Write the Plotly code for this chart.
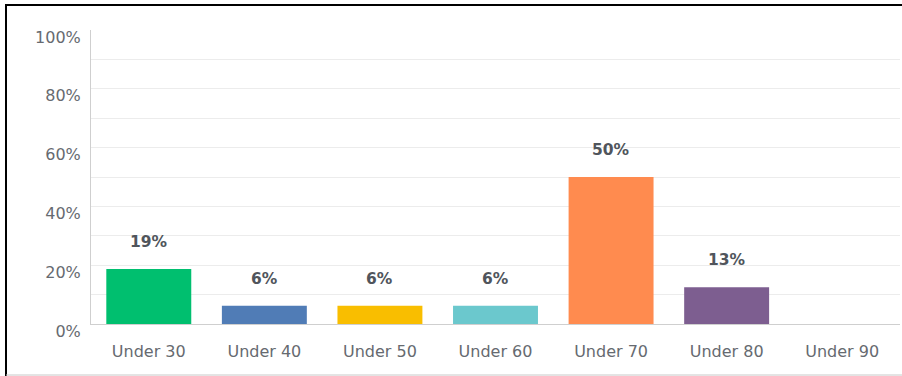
import plotly.graph_objects as go

categories = ["Under 30", "Under 40", "Under 50", "Under 60", "Under 70", "Under 80", "Under 90"]
values = [18.75, 6.25, 6.25, 6.25, 50.0, 12.5, 0.0]
labels = ["19%", "6%", "6%", "6%", "50%", "13%", ""]
colors = ["#00BF6F", "#507CB6", "#F9BE00", "#6BC8CD", "#FF8B4F", "#7D5E90", "#D25F90"]
y_ticks = [0, 20, 40, 60, 80, 100]
y_ticktext = ["0%", "20%", "40%", "60%", "80%", "100%"]

FONT = "DejaVu Sans"
L, R, T, B = 91, 2, 30, 52
PW, PH = 902 - L - R, 376 - T - B

fig = go.Figure()
fig.add_trace(go.Bar(
    x=categories, y=values,
    marker=dict(color=colors, line=dict(width=0)),
    hoverinfo="skip",
))

for c, v, t in zip(categories, values, labels):
    if t:
        fig.add_annotation(x=c, y=v, text=t, showarrow=False, yshift=27,
                           font=dict(family=FONT, size=15.5, color="#50555c", weight="bold"))

fig.update_layout(
    width=902, height=376,
    margin=dict(l=L, r=R, t=T, b=B),
    paper_bgcolor="white", plot_bgcolor="white",
    bargap=0.265,
    showlegend=False,
    font=dict(family=FONT, size=15, color="#666a70"),
    xaxis=dict(
        showgrid=False, showline=True, linecolor="#cfcfcf", linewidth=1,
        ticks="", ticklabelstandoff=13,
        tickfont=dict(family=FONT, size=16, color="#666a70"),
    ),
    yaxis=dict(
        range=[0, 100], tickvals=y_ticks, ticktext=y_ticktext,
        showgrid=True, gridcolor="#ececec", gridwidth=1,
        minor=dict(dtick=10, showgrid=True, gridcolor="#ececec", gridwidth=1),
        showline=True, linecolor="#cfcfcf", linewidth=1,
        zeroline=False, ticks="", ticklabelstandoff=6, ticklabelshift=7,
        tickfont=dict(family=FONT, size=16, color="#666a70"),
    ),
    shapes=[
        dict(type="line", xref="paper", yref="paper",
             x0=-(L - 6) / PW, x1=1 + R / PW, y0=1 + (T - 5) / PH, y1=1 + (T - 5) / PH,
             line=dict(color="black", width=2)),
        dict(type="line", xref="paper", yref="paper",
             x0=-(L - 6) / PW, x1=-(L - 6) / PW, y0=1 + (T - 4) / PH, y1=-B / PH,
             line=dict(color="black", width=2)),
        dict(type="line", xref="paper", yref="paper",
             x0=-(L - 6) / PW, x1=1 + R / PW, y0=-(B - 1) / PH, y1=-(B - 1) / PH,
             line=dict(color="#c8c8c8", width=1)),
    ],
)

fig.write_html("out.html")
